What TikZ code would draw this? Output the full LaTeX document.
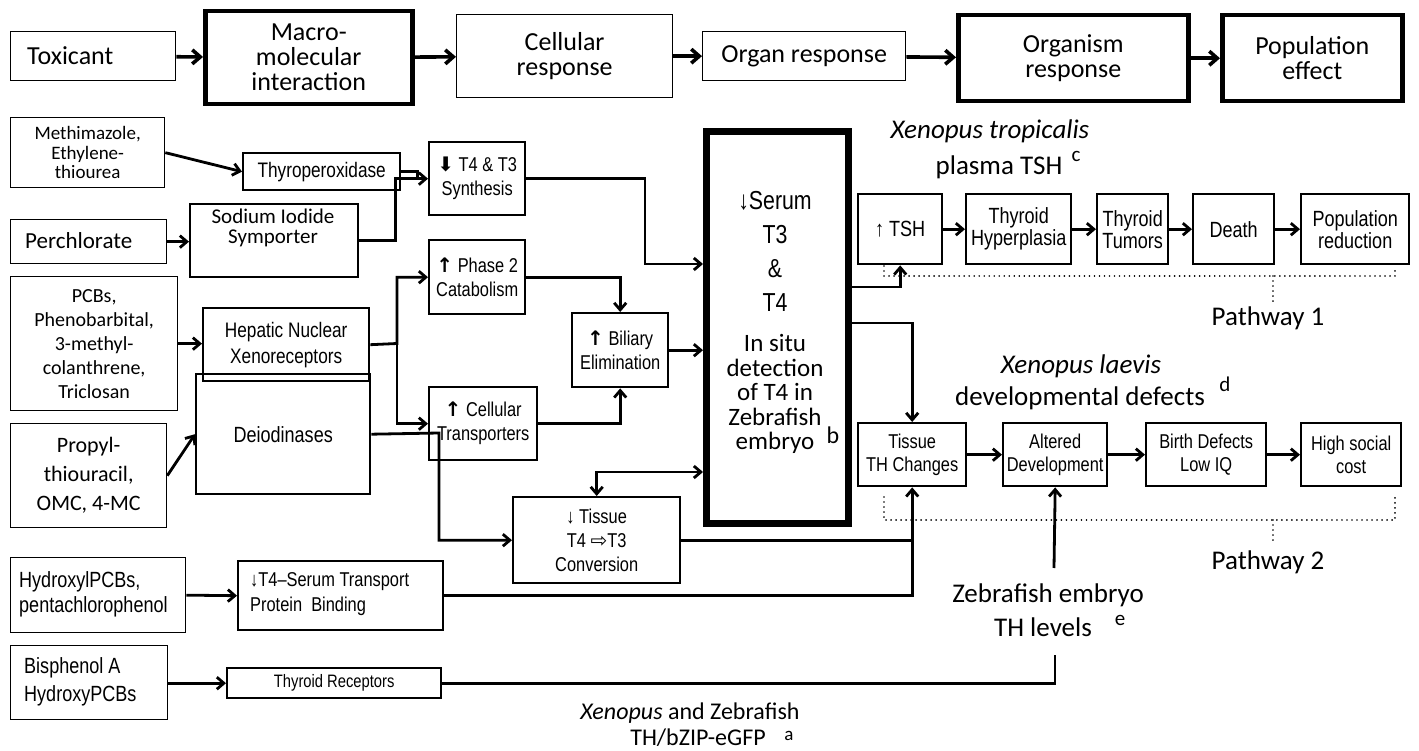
\documentclass[tikz,border=0pt]{standalone}
\usepackage{fontspec}
\setmainfont{Carlito}
\newfontfamily\nar[FakeStretch=0.82]{Liberation Sans}
\newfontfamily\dvs{DejaVu Sans}
\usetikzlibrary{arrows.meta}
\newcommand{\upa}{{\dvs\bfseries ↑}}
\newcommand{\fsz}[2]{\fontsize{#1}{#2}\selectfont}
\begin{document}
\begin{tikzpicture}[x=1pt,y=-1pt,
  bx/.style={draw, line width=1.3pt, inner sep=0pt, align=center, anchor=north west},
  mb/.style={bx, line width=2.4pt},
  tb/.style={bx, line width=4.5pt},
  sz/.style 2 args={minimum width=#1pt, minimum height=#2pt},
  con/.style={line width=2.8pt, -{Straight Barb[length=7pt,width=12pt]}},
  dcon/.style={line width=2.8pt, {Straight Barb[length=7pt,width=12pt]}-{Straight Barb[length=7pt,width=12pt]}},
  tcon/.style={line width=3.6pt, -{Straight Barb[length=8pt,width=14pt]}},
  ln/.style={line width=2.8pt},
  dot/.style={line width=1.8pt, dash pattern=on 0.01pt off 5pt, line cap=round},
  topf/.style={font=\fsz{26}{25}},
  nf/.style={font=\nar\fsz{20}{24}},
  lab/.style={font=\fsz{27}{28}, inner sep=0pt},
  sup/.style={font=\fsz{21}{21}, inner sep=0pt},
  txt/.style={inner sep=0pt}
]
\useasboundingbox (0,0) rectangle (1419,751);
\fill[white] (0,0) rectangle (1419,751);

% top row
\node[bx, sz={165}{49}] (tox) at (10,31) {};
\node[txt, topf, anchor=west] (toxt) at (27,55.5) {Toxicant};
\node[tb, topf, sz={207}{93}] (mac) at (203,9) {Macro-\\molecular\\interaction};
\node[bx, topf, sz={216}{83}] (cel) at (456,14) {Cellular\\response};
\node[bx, topf, sz={203}{49}] (org) at (702,31) {Organ response};
\node[tb, topf, sz={230}{86}] (ogm) at (956,13) {Organism\\response};
\node[tb, topf, sz={180}{86}] (pop) at (1220,13) {Population\\effect};
\draw[tcon] (tox) -- (mac);
\draw[tcon] (mac) -- (cel);
\draw[tcon] (cel) -- (org);
\draw[tcon] (org) -- (ogm);
\draw[tcon] (ogm) -- (pop);

% left column
\node[bx, font=\fsz{19}{19.5}, sz={154}{70}] (meth) at (10,117) {Methimazole,\\Ethylene-\\thiourea};
\node[bx, sz={156}{44}] (perch) at (10,219) {};
\node[txt, font=\fsz{23}{23}, anchor=west] (percht) at (25,241) {Perchlorate};
\node[bx, font=\fsz{20}{24}, sz={167}{134}] (pcbs) at (10,276) {PCBs,\\Phenobarbital,\\3-methyl-\\colanthrene,\\Triclosan};
\node[bx, font=\fsz{22}{29}, sz={156}{104}] (prop) at (10,423) {Propyl-\\thiouracil,\\OMC, 4-MC};
\node[bx, sz={175}{75}] (hyd) at (10,557) {};
\node[txt, font=\nar\fsz{22}{25}, anchor=west, align=left] (hydt) at (19,594.5) {HydroxylPCBs,\\pentachlorophenol};
\node[bx, sz={157}{74}] (bis) at (10,645) {};
\node[txt, font=\nar\fsz{22}{28}, anchor=west, align=left] (bist) at (24,682) {Bisphenol A\\HydroxyPCBs};

% second column
\node[mb, font=\nar\fsz{21}{24}, sz={157}{37}] (thp) at (242,152) {Thyroperoxidase};
\node[mb, sz={168}{73}] (sis) at (189,203) {};
\node[txt, font=\fsz{21}{20}, align=center] (sist) at (273,228) {Sodium Iodide\\Symporter};
\node[mb, font=\nar\fsz{21}{26}, sz={166}{73}] (hep) at (202,307) {Hepatic Nuclear\\Xenoreceptors};
\node[mb, font=\nar\fsz{22}{26}, sz={174}{120}] (deio) at (195,373) {Deiodinases};
\node[mb, sz={205}{69}] (ser) at (237,560) {};
\node[txt, font=\nar\fsz{20}{25}, anchor=west, align=left] (sert) at (250,594.5) {↓T4–Serum Transport\\Protein\ \ Binding};
\node[mb, font=\nar\fsz{18}{20}, sz={214}{30}] (thr) at (226,667) {Thyroid Receptors};

% middle column
\node[mb, nf, sz={96}{73}] (t4s) at (428,141) {{\dvs ⬇} T4 \& T3\\Synthesis};
\node[mb, nf, sz={96}{74}] (phs) at (428,239) {\upa\ Phase 2\\Catabolism};
\node[mb, nf, sz={96}{74}] (bil) at (571,312) {\upa\ Biliary\\Elimination};
\node[mb, nf, sz={108}{73}] (ctr) at (428,386) {\upa\ Cellular\\Transporters};
\node[mb, nf, sz={167}{86}] (conv) at (512,496) {↓ Tissue\\T4 {\dvs ⇨}T3\\Conversion};

% big box
\node[bx, line width=7pt, sz={142}{392}] (big) at (703,128) {};
\node[txt, font=\nar\fsz{26}{34}, align=center] (bigt1) at (775,251) {↓Serum\\T3\\\&\\T4};
\node[txt, font=\fsz{25}{24.5}, align=center] (bigt2) at (775,394) {In situ\\detection\\of T4 in\\Zebrafish\\embryo};
\node[sup, font=\fsz{24}{24}] (bsup) at (833,435) {b};

% pathway 1 row
\node[mb, font=\nar\fsz{22}{22}, sz={84}{70}] (tsh) at (857,193) {↑ TSH};
\node[mb, font=\nar\fsz{22}{22}, sz={105}{70}] (thy) at (965,193) {Thyroid\\Hyperplasia};
\node[mb, font=\nar\fsz{22}{22}, sz={71}{70}] (tum) at (1096,193) {Thyroid\\Tumors};
\node[mb, font=\nar\fsz{22}{22}, sz={81}{70}] (dea) at (1192,193) {Death};
\node[mb, font=\nar\fsz{22}{22}, sz={108}{70}] (prd) at (1300,193) {Population\\reduction};
\draw[con] (tsh) -- (thy);
\draw[con] (thy) -- (tum);
\draw[con] (tum) -- (dea);
\draw[con] (dea) -- (prd);

% pathway 2 row
\node[mb, font=\nar\fsz{20}{23}, sz={108}{63}] (tis) at (857,422) {Tissue\\TH Changes};
\node[mb, font=\nar\fsz{20}{23}, sz={104}{63}] (alt) at (1002,422) {Altered\\Development};
\node[mb, font=\nar\fsz{20}{23}, sz={120}{63}] (bd) at (1145,422) {Birth Defects\\Low IQ};
\node[mb, font=\nar\fsz{20}{23}, sz={100}{63}] (hsc) at (1300,422) {High social\\cost};
\draw[con] (tis) -- (alt);
\draw[con] (alt) -- (bd);
\draw[con] (bd) -- (hsc);

% labels
\node[lab, font=\itshape\fsz{27}{28}] (xt1) at (990,131) {Xenopus tropicalis};
\node[lab] (xt2) at (999,167) {plasma TSH};
\node[sup] (xt3) at (1076,156) {c};
\node[lab, font=\itshape\fsz{27}{28}] (xl1) at (1081,366) {Xenopus laevis};
\node[lab] (xl2) at (1080,398) {developmental defects};
\node[sup] (xl3) at (1225,384) {d};
\node[lab] (p1) at (1268,318) {Pathway 1};
\node[lab] (p2) at (1268,562) {Pathway 2};
\node[lab] (zf1) at (1048,595) {Zebrafish embryo};
\node[lab] (zf2) at (1043,627) {TH levels};
\node[sup] (zf3) at (1120,620) {e};
\node[lab, font=\fsz{24}{24}] (xz1) at (690,713) {\textit{Xenopus} and Zebrafish};
\node[lab, font=\fsz{24}{24}] (xz2) at (698,738) {TH/bZIP-eGFP};
\node[sup, font=\fsz{19}{19}] (xz3) at (789,736) {a};
\coordinate (zfb) at (1055,655);
\coordinate (zft) at (1054,568);

% connectors left/middle
\draw[con] (meth.east) -- (thp.west);
\draw[con] (perch.east) -- (perch.east -| sis.west);
\draw[ln] (thp.east) -- ++(16,0) -- ++(0,7.5);
\draw[con] (sis.east) -- ++(36,0) |- (t4s.west);
\draw[con] (t4s.east) -| (645,264) -- (big.west |- 0,264);
\draw[con] (phs.east) -| (bil.north);
\draw[con] (ctr.east) -| (bil.south);
\draw[con] (bil.east) -- (bil.east -| big.west);
\draw[con] (pcbs.east) -- (pcbs.east -| hep.west);
\draw[con] (hep.east) -- (397,343.5) |- (phs.west);
\draw[con] (397,343.5) |- (ctr.west);
\draw[con] (prop.east) -- (deio.west);
\draw[con] (deio.east) -- (439,433) |- (conv.west);
\draw[dcon] (conv.north) |- (big.west |- 0,472);
\draw[con] (conv.east) -| (tis.south);
\draw[ln] (ser.east) -| (tis.south |- conv.east);
\draw[con] (hyd.east) -- (ser.west);
\draw[con] (bis.east |- thr.west) -- (thr.west);
\draw[ln] (thr.east) -| (zfb);
\draw[con] (zft) -- (alt.south);
\draw[con] (big.east |- 0,287) -| (tsh.south);
\draw[con] (big.east |- 0,323) -| (tis.north);

% dotted brackets
\draw[dot] (884,266) -- (884,276) -- (1395,276) -- (1395,266);
\draw[dot] (1273,276) -- (1273,302);
\draw[dot] (884,497) -- (884,520) -- (1395,520) -- (1395,497);
\draw[dot] (1273,520) -- (1273,545);
\end{tikzpicture}
\end{document}
